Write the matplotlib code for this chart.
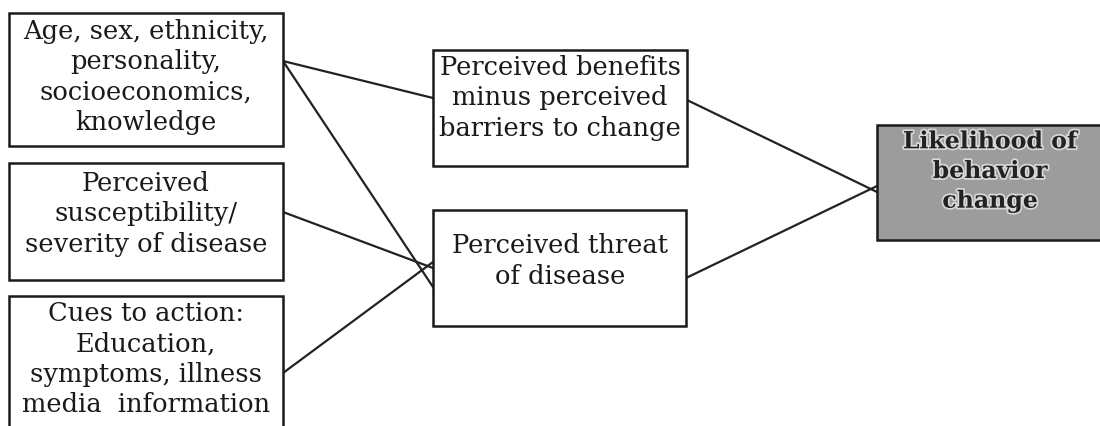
import matplotlib
matplotlib.use('Agg')
import matplotlib.pyplot as plt
from matplotlib.patches import Rectangle
import matplotlib.patheffects as pe

# box texts
left_labels = [
    'Age, sex, ethnicity,\npersonality,\nsocioeconomics,\nknowledge',
    'Perceived\nsusceptibility/\nseverity of disease',
    'Cues to action:\nEducation,\nsymptoms, illness\nmedia  information',
]
mid_labels = [
    'Perceived benefits\nminus perceived\nbarriers to change',
    'Perceived threat\nof disease',
]
out_label = 'Likelihood of\nbehavior\nchange'

# links: (from box, to box)
links = [('L0', 'M0'), ('L0', 'M1'), ('L1', 'M1'), ('L2', 'M1'),
         ('M0', 'OUT'), ('M1', 'OUT')]

# layout in pixels (x0, y0, x1, y1)
boxes = {
    'L0': (9, 13, 283, 146),
    'L1': (9, 163, 283, 280),
    'L2': (9, 296, 283, 440),
    'M0': (433, 50, 687, 166),
    'M1': (433, 210, 686, 326),
    'OUT': (877, 125, 1104, 240),
}
# anchor points of the link ends
ports = {
    ('L0', 'M0'): ((283, 61), (433, 98)),
    ('L0', 'M1'): ((283, 61), (433, 287)),
    ('L1', 'M1'): ((283, 212), (433, 268)),
    ('L2', 'M1'): ((283, 373), (433, 262)),
    ('M0', 'OUT'): ((687, 100), (877, 192)),
    ('M1', 'OUT'): ((686, 278), (877, 186)),
}

fig = plt.figure(figsize=(11, 4.26), dpi=100)
ax = fig.add_axes([0, 0, 1, 1])
ax.set_xlim(0, 1100)
ax.set_ylim(426, 0)
ax.axis('off')

for k in links:
    (x0, y0), (x1, y1) = ports[k]
    ax.plot([x0, x1], [y0, y1], color='#222222', lw=1.6, zorder=1)

font = 'DejaVu Serif'
texts = {'L0': left_labels[0], 'L1': left_labels[1], 'L2': left_labels[2],
         'M0': mid_labels[0], 'M1': mid_labels[1]}

for key, (x0, y0, x1, y1) in boxes.items():
    fc = '#9c9c9c' if key == 'OUT' else 'white'
    ax.add_patch(Rectangle((x0, y0), x1 - x0, y1 - y0, facecolor=fc,
                           edgecolor='#1a1a1a', lw=1.8, zorder=2))

text_pos = {'L0': (146, 77), 'L1': (146, 214), 'L2': (146, 359),
            'M0': (560, 98), 'M1': (560, 261)}
for key, t in texts.items():
    x, y = text_pos[key]
    ax.text(x, y, t, ha='center', va='center', family=font, fontsize=18.5,
            color='#1a1a1a', linespacing=1.26, zorder=3)

ax.text(990, 171, out_label, ha='center', va='center', family=font,
        fontsize=17, fontweight='bold', color='#222222', linespacing=1.3,
        zorder=3, path_effects=[pe.withStroke(linewidth=2.5, foreground='#d8d8d8')])

fig.savefig('out.png', dpi=100, facecolor='white')
